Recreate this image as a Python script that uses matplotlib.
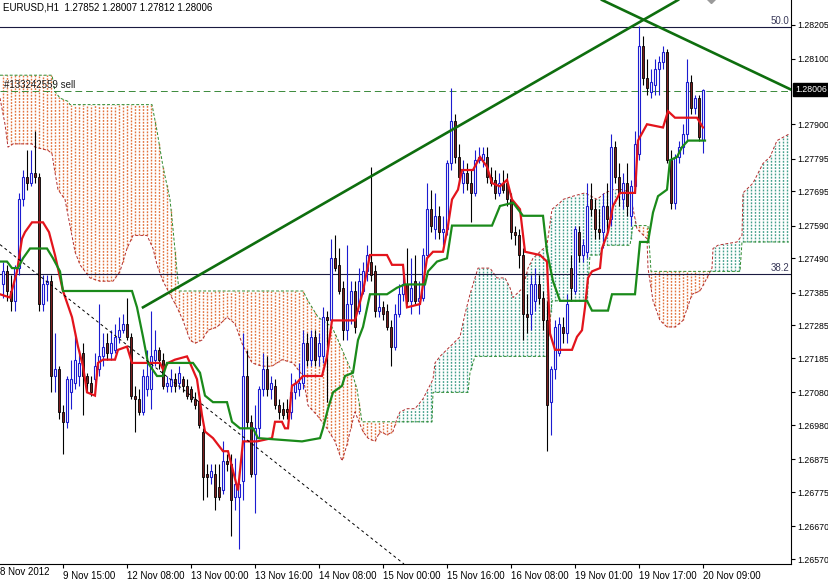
import numpy as np
import matplotlib.pyplot as plt
import matplotlib.transforms as mtransforms

plt.rcParams['font.family'] = ['Liberation Sans', 'DejaVu Sans']

# EURUSD H1 bars, oldest first (bar i = one hour)
opens = [
    1.2741, 1.2745, 1.2739, 1.2736, 1.2746, 1.2767, 1.2774, 1.2772, 1.2775, 1.2774,
    1.2735, 1.2741, 1.2742, 1.2713, 1.2715, 1.2702, 1.2699, 1.2708, 1.2711, 1.2713,
    1.2720, 1.2713, 1.2711, 1.2712, 1.2715, 1.2719, 1.2723, 1.2720, 1.2721, 1.2725,
    1.2727, 1.2729, 1.2725, 1.2707, 1.2706, 1.2702, 1.2709, 1.2709, 1.2718, 1.2721,
    1.2718, 1.2710, 1.2710, 1.2712, 1.2711, 1.2712, 1.2710, 1.2709, 1.2706, 1.2705,
    1.2696, 1.2683, 1.2682, 1.2683, 1.2679, 1.2678, 1.2687, 1.2686, 1.2676, 1.2676,
    1.2681, 1.2713, 1.2699, 1.2683, 1.2697, 1.2709, 1.2715, 1.2709, 1.2710, 1.2704,
    1.2703, 1.2703, 1.2702, 1.2708, 1.2709, 1.2711, 1.2723, 1.2718, 1.2725, 1.2719,
    1.2719, 1.2731, 1.2730, 1.2749, 1.2747, 1.2740, 1.2727, 1.2735, 1.2739, 1.2733,
    1.2739, 1.2745, 1.2748, 1.2745, 1.2733, 1.2734, 1.2733, 1.2728, 1.2722, 1.2732,
    1.2738, 1.2741, 1.2736, 1.2742, 1.2736, 1.2737, 1.2750, 1.2764, 1.2758, 1.2762,
    1.2757, 1.2758, 1.2778, 1.2791, 1.2780, 1.2772, 1.2775, 1.2772, 1.2769, 1.2779,
    1.2779, 1.2780, 1.2774, 1.2773, 1.2769, 1.2772, 1.2772, 1.2767, 1.2757, 1.2756,
    1.2750, 1.2732, 1.2732, 1.2736, 1.2741, 1.2737, 1.2730, 1.2705, 1.2715, 1.2720,
    1.2728, 1.2726, 1.2746, 1.2739, 1.2757, 1.2750, 1.2751, 1.2767, 1.2764, 1.2758,
    1.2757, 1.2765, 1.2761, 1.2783, 1.2774, 1.2767, 1.2772, 1.2762, 1.2771, 1.2781,
    1.2814, 1.2804, 1.2800, 1.2802, 1.2807, 1.2809, 1.2812, 1.2779, 1.2766, 1.2780,
    1.2783, 1.2787, 1.2803, 1.2795, 1.2798, 1.27852,
]
highs = [
    1.2748, 1.2747, 1.2744, 1.2747, 1.2769, 1.2776, 1.2782, 1.2782, 1.2788, 1.2775,
    1.2744, 1.2744, 1.2744, 1.2726, 1.2716, 1.2704, 1.2713, 1.2718, 1.2726, 1.2721,
    1.2723, 1.2714, 1.2713, 1.2720, 1.2735, 1.2726, 1.2726, 1.2727, 1.2729, 1.2731,
    1.2732, 1.2737, 1.2726, 1.2710, 1.2709, 1.2715, 1.2721, 1.2733, 1.2727, 1.2722,
    1.2720, 1.2713, 1.2715, 1.2714, 1.2716, 1.2713, 1.2712, 1.2710, 1.2708, 1.2706,
    1.2697, 1.2686, 1.2686, 1.2686, 1.2686, 1.2693, 1.2689, 1.2689, 1.2688, 1.2684,
    1.2726, 1.2721, 1.2701, 1.2704, 1.2710, 1.2720, 1.2719, 1.2713, 1.2712, 1.2706,
    1.2705, 1.2706, 1.2714, 1.2712, 1.2717, 1.2727, 1.2726, 1.2727, 1.2727, 1.2726,
    1.2734, 1.2733, 1.2755, 1.2756, 1.2752, 1.2742, 1.2753, 1.2742, 1.2742, 1.2746,
    1.2748, 1.2753, 1.2777, 1.2747, 1.2738, 1.2736, 1.2735, 1.2730, 1.2735, 1.2741,
    1.2746, 1.2752, 1.2749, 1.2750, 1.2742, 1.2752, 1.2772, 1.2770, 1.2769, 1.2765,
    1.2762, 1.2779, 1.2801, 1.2793, 1.2784, 1.2779, 1.2778, 1.2776, 1.2782, 1.2783,
    1.2783, 1.2783, 1.2777, 1.2776, 1.2775, 1.2776, 1.2775, 1.2769, 1.2759, 1.2758,
    1.2752, 1.2738, 1.2744, 1.2746, 1.2744, 1.2739, 1.2736, 1.2716, 1.2730, 1.2731,
    1.2731, 1.2738, 1.2750, 1.2759, 1.2759, 1.2755, 1.2772, 1.2772, 1.2767, 1.2764,
    1.2769, 1.2772, 1.2787, 1.2785, 1.2778, 1.2775, 1.2778, 1.2773, 1.2788, 1.2820,
    1.2817, 1.2810, 1.2807, 1.2810, 1.2811, 1.2814, 1.2813, 1.2782, 1.2781, 1.2785,
    1.2790, 1.2810, 1.2805, 1.2799, 1.2799, 1.28007,
]
lows = [
    1.2737, 1.2736, 1.2733, 1.2733, 1.2744, 1.2765, 1.2770, 1.2771, 1.2772, 1.2733,
    1.2733, 1.2736, 1.2708, 1.2708, 1.2700, 1.2689, 1.2697, 1.2703, 1.2709, 1.2710,
    1.2701, 1.2708, 1.2707, 1.2710, 1.2713, 1.2716, 1.2718, 1.2718, 1.2720, 1.2723,
    1.2726, 1.2724, 1.2706, 1.2696, 1.2701, 1.2701, 1.2707, 1.2703, 1.2716, 1.2715,
    1.2709, 1.2708, 1.2708, 1.2708, 1.2709, 1.2708, 1.2706, 1.2705, 1.2703, 1.2697,
    1.2675, 1.2676, 1.2680, 1.2672, 1.2675, 1.2677, 1.2684, 1.2664, 1.2672, 1.2660,
    1.2675, 1.2697, 1.2682, 1.2671, 1.2694, 1.2707, 1.2707, 1.2706, 1.2703, 1.2700,
    1.2700, 1.2700, 1.2700, 1.2706, 1.2707, 1.2709, 1.2716, 1.2716, 1.2716, 1.2716,
    1.2717, 1.2705, 1.2729, 1.2745, 1.2738, 1.2724, 1.2724, 1.2729, 1.2726, 1.2732,
    1.2738, 1.2742, 1.2742, 1.2731, 1.2731, 1.2730, 1.2727, 1.2716, 1.2721, 1.2731,
    1.2736, 1.2735, 1.2732, 1.2735, 1.2732, 1.2736, 1.2749, 1.2757, 1.2755, 1.2755,
    1.2753, 1.2756, 1.2776, 1.2778, 1.2772, 1.2769, 1.2770, 1.2760, 1.2768, 1.2778,
    1.2777, 1.2772, 1.2771, 1.2767, 1.2768, 1.2769, 1.2765, 1.2755, 1.2753, 1.2746,
    1.2724, 1.2726, 1.2727, 1.2733, 1.2735, 1.2727, 1.2690, 1.2695, 1.2712, 1.2719,
    1.2723, 1.2723, 1.2736, 1.2738, 1.2748, 1.2748, 1.2749, 1.2762, 1.2755, 1.2755,
    1.2752, 1.2756, 1.2759, 1.2772, 1.2765, 1.2764, 1.2762, 1.2759, 1.2769, 1.2779,
    1.2802, 1.2799, 1.2798, 1.2799, 1.2799, 1.2807, 1.2778, 1.2764, 1.2764, 1.2778,
    1.2781, 1.2785, 1.2793, 1.2793, 1.2785, 1.27812,
]
closes = [
    1.2745, 1.2739, 1.2736, 1.2746, 1.2767, 1.2774, 1.2772, 1.2775, 1.2774, 1.2735,
    1.2741, 1.2742, 1.2713, 1.2715, 1.2702, 1.2699, 1.2712, 1.2712, 1.2718, 1.2717,
    1.2713, 1.2711, 1.2708, 1.2716, 1.2719, 1.2722, 1.2720, 1.2723, 1.2725, 1.2727,
    1.2729, 1.2725, 1.2707, 1.2706, 1.2702, 1.2713, 1.2713, 1.2719, 1.2721, 1.2718,
    1.2710, 1.2711, 1.2712, 1.2710, 1.2714, 1.2710, 1.2707, 1.2706, 1.2704, 1.2698,
    1.2682, 1.2682, 1.2684, 1.2676, 1.2676, 1.2687, 1.2686, 1.2675, 1.2680, 1.2680,
    1.2713, 1.2699, 1.2683, 1.2697, 1.2709, 1.2715, 1.2709, 1.2711, 1.2704, 1.2702,
    1.2701, 1.2702, 1.2708, 1.2711, 1.2711, 1.2723, 1.2718, 1.2725, 1.2718, 1.2723,
    1.2731, 1.2730, 1.2749, 1.2746, 1.2739, 1.2727, 1.2735, 1.2739, 1.2728, 1.2742,
    1.2745, 1.2750, 1.2744, 1.2733, 1.2734, 1.2732, 1.2728, 1.2722, 1.2732, 1.2738,
    1.2741, 1.2736, 1.2740, 1.2736, 1.2737, 1.2750, 1.2764, 1.2759, 1.2762, 1.2757,
    1.2758, 1.2778, 1.2791, 1.2780, 1.2774, 1.2775, 1.2772, 1.2769, 1.2779, 1.2780,
    1.2781, 1.2774, 1.2772, 1.2769, 1.2772, 1.2770, 1.2767, 1.2757, 1.2756, 1.2750,
    1.2732, 1.2731, 1.2741, 1.2741, 1.2737, 1.2730, 1.2704, 1.2715, 1.2728, 1.2729,
    1.2726, 1.2735, 1.2740, 1.2758, 1.2750, 1.2753, 1.2765, 1.2764, 1.2758, 1.2757,
    1.2765, 1.2761, 1.2783, 1.2774, 1.2769, 1.2772, 1.2765, 1.2771, 1.2784, 1.2814,
    1.2804, 1.2801, 1.2803, 1.2807, 1.2809, 1.2812, 1.2779, 1.2766, 1.2780, 1.2783,
    1.2787, 1.2803, 1.2795, 1.2798, 1.2786, 1.28006,
]

# Ichimoku lines, read as (bar, price) vertices
tenkan = [(-0.75, 1.2738), (1.75, 1.2737), (3.5, 1.2745), (4.75, 1.2755), (5.5, 1.2757),
          (7.25, 1.2760), (10, 1.2760), (11.5, 1.2757), (13, 1.2750), (15, 1.2739),
          (17.25, 1.2731), (18.75, 1.2722), (20, 1.2716), (21, 1.2708), (23, 1.2707),
          (23.75, 1.2717), (25, 1.2718), (28, 1.2718), (28.75, 1.2721), (31, 1.2722),
          (32.25, 1.2717), (39.25, 1.2717), (40, 1.2715), (41.25, 1.2717), (43, 1.2718),
          (46, 1.2719), (46.75, 1.2717), (48.5, 1.2712), (49.75, 1.2701), (50.5, 1.2696),
          (52.5, 1.2694), (55, 1.2690), (56.25, 1.2690), (57.5, 1.2684), (58.75, 1.2678),
          (60, 1.2693), (63.5, 1.2693), (67.25, 1.2694), (68, 1.2699), (69.75, 1.2699),
          (70.5, 1.2697), (71.25, 1.2697), (72.25, 1.2710), (73.5, 1.2711), (75, 1.2713),
          (79.75, 1.2713), (81, 1.2719), (82.25, 1.2730), (88, 1.2730), (90, 1.2739),
          (91.75, 1.2750), (96, 1.2750), (97.25, 1.2747), (100, 1.2747), (101, 1.2734),
          (104.25, 1.2735), (106, 1.2749), (107.5, 1.2751), (110, 1.2751), (111.25, 1.2759),
          (112.25, 1.2767), (113.75, 1.2770), (114.75, 1.2776), (117.5, 1.2776), (119.25, 1.2780),
          (121, 1.2777), (122.25, 1.2772), (124.25, 1.2771), (126, 1.2773), (127.25, 1.2767),
          (129.25, 1.2764), (130.5, 1.2751), (134.25, 1.2750), (136, 1.2748), (136.75, 1.2726),
          (138, 1.2721), (142.25, 1.2721), (143.5, 1.2725), (144.75, 1.2727), (145.5, 1.2734),
          (146.25, 1.2743), (147.25, 1.2745), (149.25, 1.2746), (149.75, 1.2752), (151.25, 1.2757),
          (152.5, 1.2765), (154.25, 1.2769), (158, 1.2769), (158.75, 1.2785), (161, 1.2790),
          (165, 1.2789), (166.25, 1.2794), (168, 1.2792), (173.5, 1.2792), (175, 1.2789)]

kijun = [(-0.75, 1.2748), (1, 1.2748), (2.25, 1.2746), (3.75, 1.2746), (5, 1.2749),
         (6.75, 1.2752), (11, 1.2752), (12.5, 1.2749), (14.25, 1.2745), (15, 1.2739),
         (32.25, 1.2739), (33.5, 1.2734), (35, 1.2725), (36.25, 1.2717), (38.5, 1.2713),
         (40, 1.2713), (41, 1.2717), (47.5, 1.2717), (49.25, 1.2714), (50.5, 1.2707),
         (52.5, 1.2705), (56, 1.2705), (57.25, 1.2699), (59.25, 1.2697), (62.5, 1.2697),
         (63.75, 1.2694), (74.75, 1.2693), (79.25, 1.2694), (80, 1.2697), (81.25, 1.2703),
         (82.5, 1.2708), (84.75, 1.2710), (85.5, 1.2713), (87.5, 1.2714), (88.75, 1.2724),
         (90, 1.2728), (91.75, 1.2738), (96, 1.2738), (98.5, 1.2740), (100.5, 1.2741),
         (105.5, 1.2741), (106.25, 1.2745), (108.5, 1.2748), (111, 1.2749), (111.75, 1.2755),
         (112.25, 1.2759), (122.25, 1.2759), (124.25, 1.2765), (127.5, 1.2766), (130, 1.2762),
         (135, 1.2762), (136, 1.2751), (137.5, 1.2742), (139.25, 1.2736), (146, 1.2736),
         (147.25, 1.2733), (151.25, 1.2733), (152.25, 1.2738), (158, 1.2738), (159.25, 1.2754),
         (161.25, 1.2754), (162.5, 1.2763), (163.75, 1.2768), (166, 1.2770), (166.75, 1.2779),
         (168.5, 1.2780), (169.75, 1.2783), (171.25, 1.2785), (175.5, 1.2785)]

span_a = [(-0.75, 1.2798), (0.5, 1.2790), (1.25, 1.2783), (2.5, 1.2784), (7.25, 1.2784),
          (8, 1.2783), (11.25, 1.2782), (12.25, 1.2781), (12.75, 1.2777), (13.75, 1.2770),
          (15.5, 1.2767), (16.75, 1.2759), (18, 1.2751), (19.25, 1.2747), (21.75, 1.2743),
          (24.25, 1.2742), (27.5, 1.2742), (29.25, 1.2745), (31, 1.2752), (32.5, 1.2756),
          (36, 1.2756), (37.5, 1.2752), (38.5, 1.2747), (40, 1.2742), (41.75, 1.2738),
          (43.5, 1.2734), (45, 1.2730), (46.75, 1.2724), (48, 1.2723), (49.75, 1.2724),
          (51.25, 1.2727), (53.5, 1.2728), (56, 1.2731), (58, 1.2729), (59.75, 1.2723),
          (62.25, 1.2717), (64.75, 1.2716), (67.25, 1.2716), (69.75, 1.2718), (72.5, 1.2717),
          (75, 1.2713), (76.25, 1.2704), (78.5, 1.2701), (81, 1.2697), (83, 1.2693),
          (84.75, 1.2687), (86, 1.2692), (86.75, 1.2696), (88, 1.2702), (90, 1.2696),
          (91.25, 1.2694), (93, 1.2693), (94.25, 1.2696), (96, 1.2695), (97.5, 1.2696),
          (98.5, 1.2700), (99.25, 1.2702), (101, 1.2703), (103, 1.2703), (105, 1.2706),
          (106.25, 1.2709), (107.5, 1.2712), (108, 1.2717), (109.25, 1.2719), (111.75, 1.2722),
          (114.25, 1.2725), (115.5, 1.2732), (116.75, 1.2738), (118, 1.2743), (118.75, 1.2746),
          (121.75, 1.2746), (123.5, 1.2743), (125.5, 1.2743), (126.75, 1.2740), (127.5, 1.2737),
          (130, 1.2740), (131.25, 1.2746), (132.5, 1.2749), (134.25, 1.2751), (136, 1.2753),
          (137.25, 1.2764), (139.25, 1.2766), (140, 1.2767), (142.5, 1.2768), (145.5, 1.2769),
          (148.5, 1.2767), (150.5, 1.2769), (152.5, 1.2770), (155, 1.2770), (156.75, 1.2769),
          (158.5, 1.2758), (161, 1.2755), (161.25, 1.2746), (162.5, 1.2736), (164.25, 1.2730),
          (166, 1.2728), (168, 1.2728), (170, 1.2730), (172.25, 1.2738), (174.25, 1.2739),
          (176, 1.2743), (177.25, 1.2746), (177.5, 1.2752), (178.75, 1.2753), (183.5, 1.2754),
          (184.75, 1.2756), (185, 1.2769), (187.5, 1.2772), (190, 1.2778), (191.75, 1.2780),
          (193.5, 1.2785), (196.5, 1.2787)]

span_b = [(-0.75, 1.2805), (12.25, 1.2805), (13, 1.2800), (14.25, 1.2798), (16.25, 1.2797),
          (16.75, 1.2796), (37.25, 1.2796), (38.5, 1.2788), (40, 1.2777), (41.75, 1.2767),
          (42.5, 1.2758), (43.5, 1.2745), (44, 1.2739), (75, 1.2739), (76.25, 1.2736),
          (78.75, 1.2731), (82.25, 1.2728), (83.75, 1.2724), (85.5, 1.2719), (87.25, 1.2714),
          (88.5, 1.2709), (89.75, 1.2699), (107.25, 1.2699), (107.5, 1.2708), (116.25, 1.2708),
          (116.75, 1.2714), (118, 1.2719), (136, 1.2719), (137.25, 1.2736), (146, 1.2736),
          (146.75, 1.2750), (149.25, 1.2750), (150, 1.2753), (156.75, 1.2753), (157.5, 1.2759),
          (161.25, 1.2759), (162, 1.2745), (177.5, 1.2745), (184.25, 1.2745), (184.75, 1.2754),
          (196.5, 1.2754)]

# drawn objects
trend_up = [(35, 1.2734), (168.75, 1.2828)]
trend_down = [(149.75, 1.2828), (197, 1.28006)]
dash_line = [(-0.75, 1.27532), (100.25, 1.26555)]
fib_levels = {'50.0': 1.28197, '38.2': 1.27441}
sell_price = 1.28003
bid = 1.28006

yticks = [1.28205, 1.28100, 1.27900, 1.27795, 1.27695, 1.27590, 1.27490, 1.27385,
          1.27285, 1.27185, 1.27080, 1.26980, 1.26875, 1.26775, 1.26670, 1.26570]
xtick_bars = [15, 31, 47, 63, 79, 95, 111, 127, 143, 159, 175]
xtick_labels = ['9 Nov 15:00', '12 Nov 08:00', '13 Nov 00:00', '13 Nov 16:00',
                '14 Nov 08:00', '15 Nov 00:00', '15 Nov 16:00', '16 Nov 08:00',
                '19 Nov 01:00', '19 Nov 17:00', '20 Nov 09:00']

W, H = 829, 580
fig = plt.figure(figsize=(W / 100, H / 100), dpi=100)
ax = fig.add_axes([0, 16 / H, 791 / W, 564 / H])
ax.set_xlim(-0.75, 197)
ax.set_ylim(1.26555, 1.28280)

# cloud: dotted histogram columns between the spans
bars = np.arange(0, 197)
ab, av = zip(*span_a)
bb, bv = zip(*span_b)
a_at = np.interp(bars, ab, av)
b_at = np.interp(bars, bb, bv)
up = a_at >= b_at
ax.vlines(bars[up], b_at[up], a_at[up], colors='#44a08c', linewidth=1.0,
          linestyles=(0, (1.3, 1.0)), zorder=1)
ax.vlines(bars[~up], a_at[~up], b_at[~up], colors='#e2743e', linewidth=1.0,
          linestyles=(0, (1.3, 1.0)), zorder=1)
ax.plot(ab, av, color='#b02c2c', lw=0.7, ls=(0, (3, 2)), zorder=2)
ax.plot(bb, bv, color='#2d8a2d', lw=0.7, ls=(0, (3, 2)), zorder=2)

# horizontal levels
for name, lvl in fib_levels.items():
    ax.axhline(lvl, color='#1a1a40', lw=0.8, zorder=2)
    ax.text(196.6, lvl + 0.00003, name, ha='right', va='bottom', fontsize=7,
            color='#3a3a5a', zorder=6)
ax.axhline(sell_price, color='#3a8a3a', lw=0.7, ls=(0, (7, 4)), zorder=2)
ax.text(0.2, sell_price + 0.00003, '#133242559 sell', ha='left', va='bottom',
        fontsize=7, color='#202020', zorder=6)

# candles
o = np.array(opens); h = np.array(highs); l = np.array(lows); c = np.array(closes)
x = np.arange(len(o))
bull = c >= o
ax.vlines(x[bull], l[bull], h[bull], color='#1c1cd0', lw=0.8, zorder=3)
ax.vlines(x[~bull], l[~bull], h[~bull], color='black', lw=0.8, zorder=3)
body_lo = np.minimum(o, c)
body_h = np.maximum(np.abs(c - o), 0.00003)
ax.bar(x[bull], body_h[bull], bottom=body_lo[bull], width=0.55, color='white',
       edgecolor='#1c1cd0', linewidth=0.8, zorder=3)
ax.bar(x[~bull], body_h[~bull], bottom=body_lo[~bull], width=0.55, color='#7a1e1e',
       edgecolor='black', linewidth=0.6, zorder=3)

# tenkan / kijun
ax.plot(*zip(*tenkan), color='#e3141c', lw=1.6, zorder=4, solid_joinstyle='miter')
ax.plot(*zip(*kijun), color='#1a8a1a', lw=1.6, zorder=4, solid_joinstyle='miter')

# trend lines
ax.plot(*zip(*trend_up), color='#0e6e0e', lw=1.9, zorder=5)
ax.plot(*zip(*trend_down), color='#0e6e0e', lw=1.9, zorder=5)
ax.plot(*zip(*dash_line), color='black', lw=0.7, ls=(0, (3, 3)), zorder=5)
ax.plot([177], [1.2829], marker='D', ms=6.5, color='#9a9a9a', zorder=6, clip_on=True)

# axes look
for s in ['left', 'top']:
    ax.spines[s].set_visible(False)
ax.spines['right'].set_color('black')
ax.spines['bottom'].set_color('black')
ax.yaxis.tick_right()
ax.set_yticks(yticks)
ax.set_yticklabels([f'{v:.5f}' for v in yticks])
ax.set_xticks(xtick_bars)
ax.set_xticklabels(xtick_labels, ha='left')
ax.tick_params(axis='both', length=3, width=0.8, colors='black')
ax.tick_params(axis='x', pad=2, labelsize=7)
ax.tick_params(axis='y', pad=1.5, labelsize=6.3)

ax.text(-0.7, -0.005, '8 Nov 2012', transform=ax.get_xaxis_transform(),
        ha='left', va='top', fontsize=7, clip_on=False)

# bid price box
tr = mtransforms.blended_transform_factory(fig.transFigure, ax.transData)
fig.text(795 / W, bid, f'{bid:.5f}', transform=tr, ha='left', va='center',
         fontsize=6.3, color='white',
         bbox=dict(boxstyle='square,pad=0.25', facecolor='black', edgecolor='black'))

fig.text(3 / W, 1 - 7 / H, 'EURUSD,H1  1.27852 1.28007 1.27812 1.28006',
         ha='left', va='center', fontsize=7)

fig.savefig('out.png', dpi=100)
